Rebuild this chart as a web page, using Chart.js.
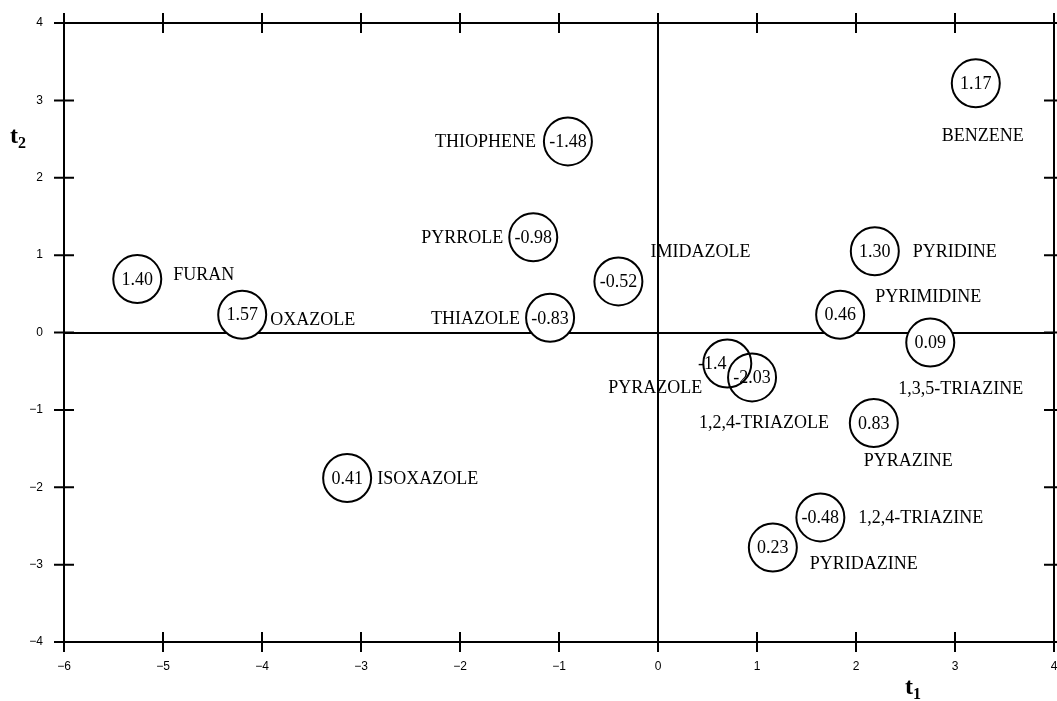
<!DOCTYPE html>
<html>
<head>
<meta charset="utf-8">
<script src="https://cdn.jsdelivr.net/npm/chart.js@4"></script>
<style>
  html, body { margin: 0; padding: 0; background: #fff; overflow: hidden; }
  canvas { display: block; }
</style>
</head>
<body>
<canvas id="chart" width="1057" height="701"></canvas>
<script>
// compounds and their scores
const compounds = ['BENZENE', 'THIOPHENE', 'PYRROLE', 'IMIDAZOLE', 'FURAN', 'OXAZOLE', 'THIAZOLE',
  'ISOXAZOLE', 'PYRAZOLE', '1,2,4-TRIAZOLE', 'PYRIDINE', 'PYRIMIDINE', '1,3,5-TRIAZINE',
  'PYRAZINE', '1,2,4-TRIAZINE', 'PYRIDAZINE'];
const t1 = [3.21, -0.91, -1.26, -0.40, -5.26, -4.20, -1.09, -3.14, 0.70, 0.95, 2.19, 1.84, 2.75, 2.18, 1.64, 1.16];
const t2 = [3.22, 2.47, 1.23, 0.66, 0.69, 0.23, 0.19, -1.88, -0.40, -0.58, 1.05, 0.23, -0.13, -1.17, -2.39, -2.78];
const circleText = ['1.17', '-1.48', '-0.98', '-0.52', '1.40', '1.57', '-0.83', '0.41', '-1.4', '-2.03',
  '1.30', '0.46', '0.09', '0.83', '-0.48', '0.23'];
const xTicks = [-6, -5, -4, -3, -2, -1, 0, 1, 2, 3, 4];
const yTicks = [-4, -3, -2, -1, 0, 1, 2, 3, 4];

// where each name sits relative to its circle (px)
const namePlace = {
  'BENZENE': { dx: 7, dy: 52, align: 'center' },
  'THIOPHENE': { dx: -32, dy: 0, align: 'right' },
  'PYRROLE': { dx: -30, dy: 0, align: 'right' },
  'IMIDAZOLE': { dx: 32, dy: -30, align: 'left' },
  'FURAN': { dx: 36, dy: -5, align: 'left' },
  'OXAZOLE': { dx: 28, dy: 5, align: 'left' },
  'THIAZOLE': { dx: -30, dy: 0, align: 'right' },
  'ISOXAZOLE': { dx: 30, dy: 0, align: 'left' },
  'PYRAZOLE': { dx: -25, dy: 24, align: 'right' },
  '1,2,4-TRIAZOLE': { dx: 12, dy: 45, align: 'center' },
  'PYRIDINE': { dx: 38, dy: 0, align: 'left' },
  'PYRIMIDINE': { dx: 35, dy: -18, align: 'left' },
  '1,3,5-TRIAZINE': { dx: -32, dy: 46, align: 'left' },
  'PYRAZINE': { dx: -10, dy: 37, align: 'left' },
  '1,2,4-TRIAZINE': { dx: 38, dy: 0, align: 'left' },
  'PYRIDAZINE': { dx: 37, dy: 16, align: 'left' }
};
const valueShift = { 'PYRAZOLE': -15 };

const points = t1.map((x, i) => ({ x: x, y: t2[i] }));
const serif = '"Liberation Serif", "Times New Roman", serif';
const minus = v => (v < 0 ? '\u2212' + Math.abs(v) : String(v));

const framePlugin = {
  id: 'frame',
  afterDraw(chart) {
    const { ctx, chartArea: a, scales } = chart;
    ctx.save();
    ctx.strokeStyle = '#000';
    ctx.lineWidth = 2;
    ctx.strokeRect(a.left, a.top, a.right - a.left, a.bottom - a.top);
    ctx.beginPath();
    xTicks.forEach(v => {
      const px = scales.x.getPixelForValue(v);
      ctx.moveTo(px, a.bottom - 10); ctx.lineTo(px, a.bottom + 10);
      ctx.moveTo(px, a.top - 10); ctx.lineTo(px, a.top + 10);
    });
    yTicks.forEach(v => {
      const py = scales.y.getPixelForValue(v);
      ctx.moveTo(a.left - 10, py); ctx.lineTo(a.left + 10, py);
      ctx.moveTo(a.right - 10, py); ctx.lineTo(a.right + 10, py);
    });
    ctx.stroke();

    // axis titles t1 / t2
    const axisTitle = (x, y, sub) => {
      ctx.fillStyle = '#000';
      ctx.textAlign = 'left';
      ctx.textBaseline = 'alphabetic';
      ctx.font = 'bold 24px ' + serif;
      ctx.fillText('t', x, y);
      const w = ctx.measureText('t').width;
      ctx.font = 'bold 16px ' + serif;
      ctx.fillText(sub, x + w, y + 5);
    };
    axisTitle(905, 694, '1');
    axisTitle(10, 143, '2');
    ctx.restore();
  }
};

const labelPlugin = {
  id: 'circleLabels',
  afterDatasetsDraw(chart) {
    const { ctx } = chart;
    const meta = chart.getDatasetMeta(1);
    ctx.save();
    ctx.fillStyle = '#000';
    ctx.textBaseline = 'middle';
    meta.data.forEach((el, i) => {
      const name = compounds[i];
      ctx.font = '18px ' + serif;
      ctx.textAlign = 'center';
      ctx.fillText(circleText[i], el.x + (valueShift[name] || 0), el.y + 1);
      const p = namePlace[name];
      ctx.textAlign = p.align;
      ctx.fillText(name, el.x + p.dx, el.y + p.dy + 1);
    });
    ctx.restore();
  }
};

const tickFont = { family: '"Liberation Sans", Arial, sans-serif', size: 12 };

const config = {
  type: 'scatter',
  data: {
    datasets: [
      {
        // white discs hide the zero lines
        data: points,
        pointRadius: 24,
        pointBackgroundColor: '#fff',
        pointBorderWidth: 0,
        pointBorderColor: 'rgba(0,0,0,0)',
        order: 2,
        clip: false
      },
      {
        data: points,
        pointRadius: 24,
        pointBackgroundColor: 'rgba(0,0,0,0)',
        pointBorderColor: '#000',
        pointBorderWidth: 2,
        order: 1,
        clip: false
      }
    ]
  },
  options: {
    responsive: false,
    animation: false,
    events: [],
    layout: { autoPadding: false, padding: { top: 23, right: 3, left: 0, bottom: 0 } },
    plugins: {
      legend: { display: false },
      tooltip: { enabled: false }
    },
    scales: {
      x: {
        type: 'linear',
        min: -6,
        max: 4,
        afterBuildTicks: s => { s.ticks = xTicks.map(v => ({ value: v })); },
        afterFit: s => { s.height = 59; s.paddingLeft = 0; s.paddingRight = 0; },
        border: { display: false },
        grid: {
          drawTicks: false,
          lineWidth: 2,
          color: c => (c.tick && c.tick.value === 0 ? '#000' : 'rgba(0,0,0,0)')
        },
        ticks: { color: '#000', font: tickFont, padding: 17, maxRotation: 0, callback: v => minus(v) }
      },
      y: {
        type: 'linear',
        min: -4,
        max: 4,
        afterBuildTicks: s => { s.ticks = yTicks.map(v => ({ value: v })); },
        afterFit: s => { s.width = 64; s.paddingTop = 0; s.paddingBottom = 0; },
        border: { display: false },
        grid: {
          drawTicks: false,
          lineWidth: 2,
          color: c => (c.tick && c.tick.value === 0 ? '#000' : 'rgba(0,0,0,0)')
        },
        ticks: { color: '#000', font: tickFont, padding: 21, callback: v => minus(v) }
      }
    }
  },
  plugins: [framePlugin, labelPlugin]
};

var chart = new Chart(document.getElementById('chart'), config);
</script>
</body>
</html>
